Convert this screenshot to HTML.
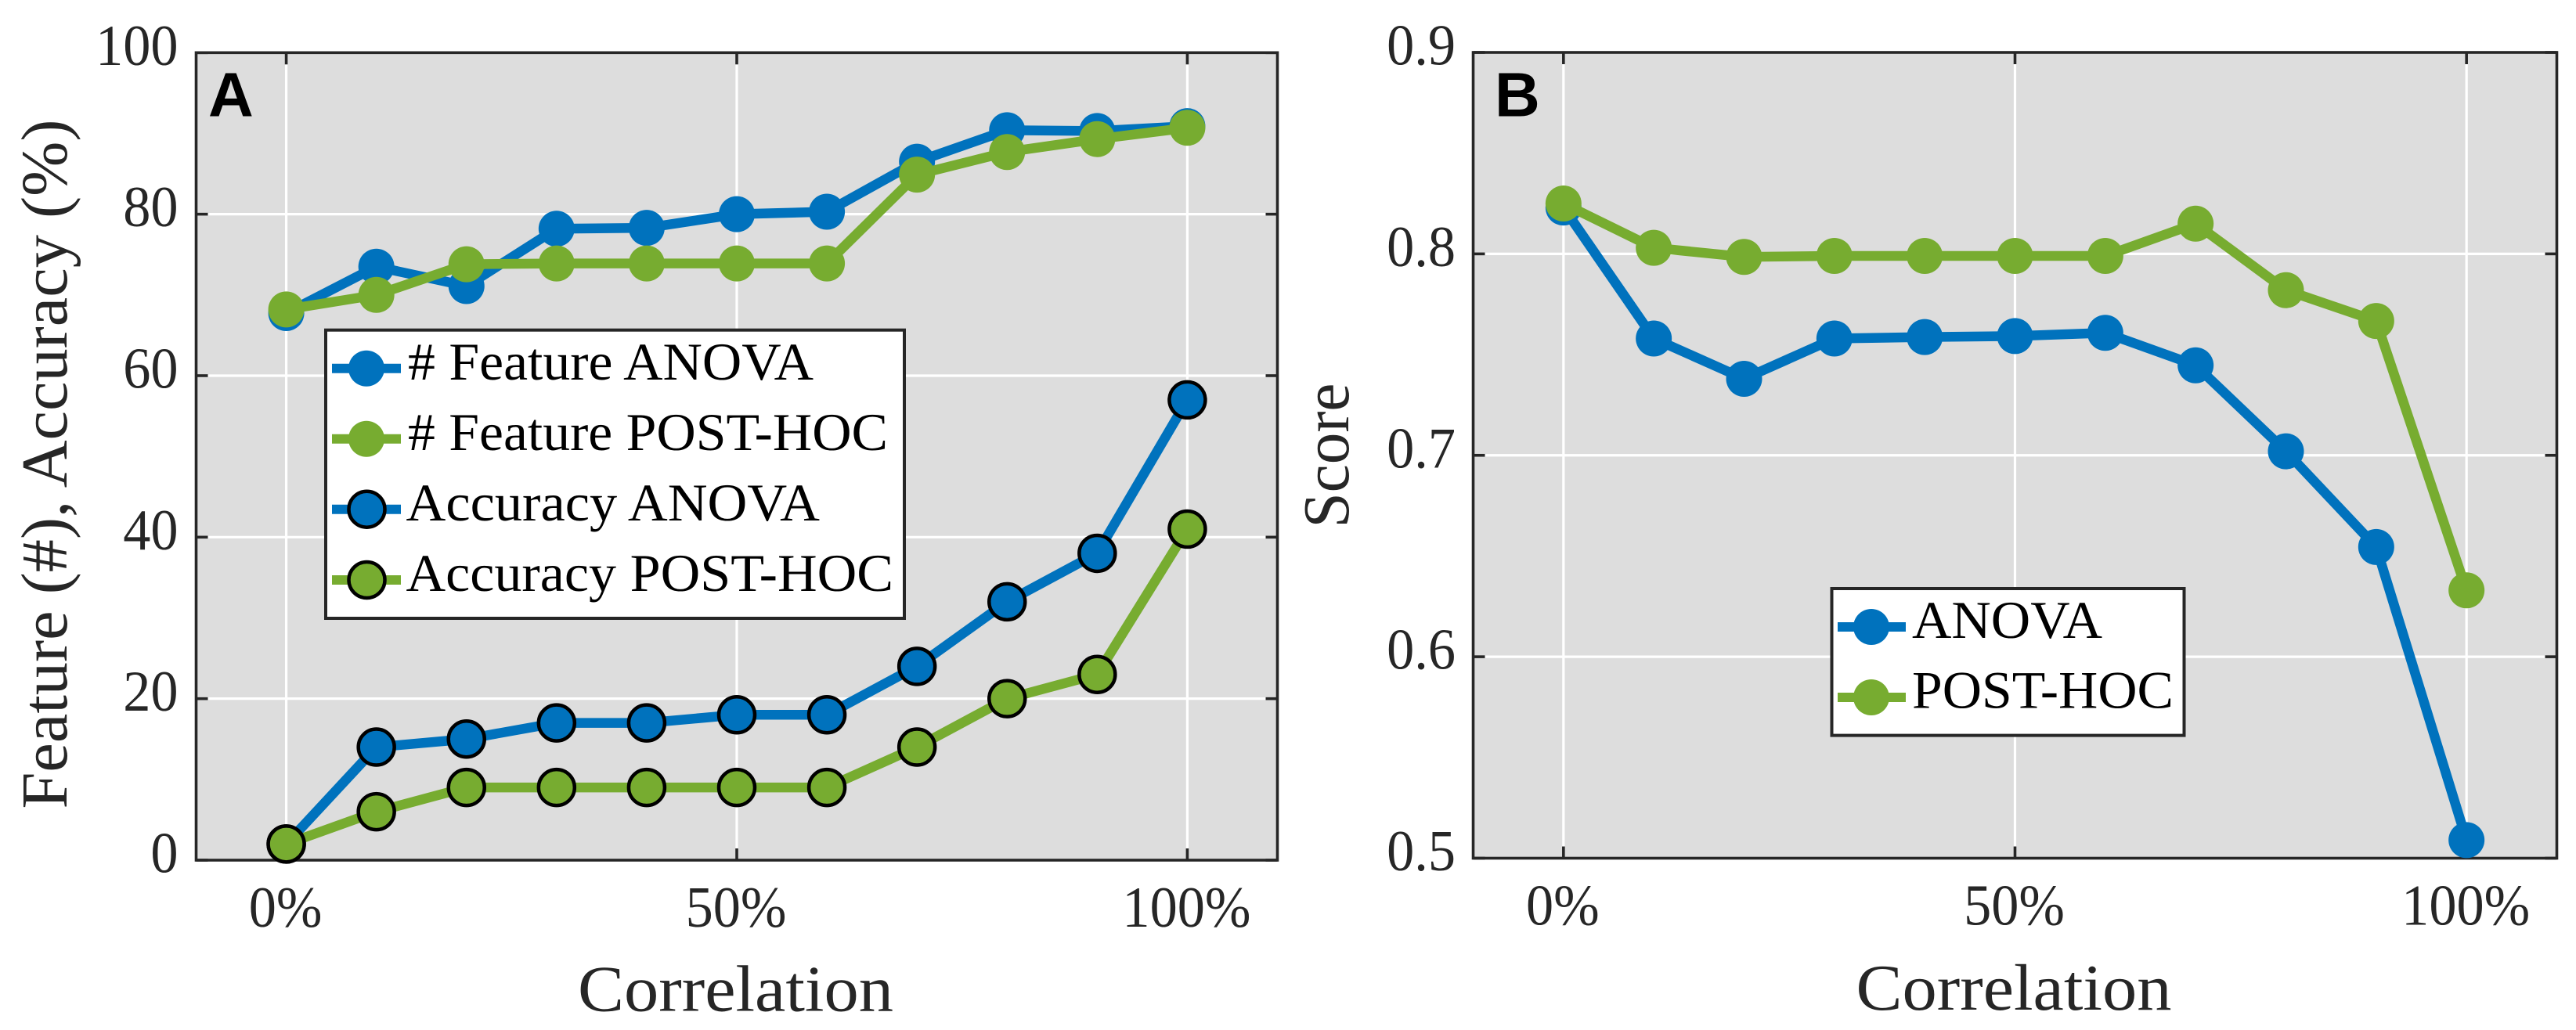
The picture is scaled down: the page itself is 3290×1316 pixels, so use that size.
<!DOCTYPE html>
<html lang="en">
<head>
<meta charset="utf-8">
<title>Feature count, accuracy and score versus correlation</title>
<style>
html,body{margin:0;padding:0;background:#fff;}
svg{display:block;}
text{font-family:"Liberation Serif",serif;}
.tick{font-size:74px;fill:#262626;}
.axt{font-size:84px;fill:#262626;}
.leg{font-size:68px;fill:#000;}
.pl{font-family:"Liberation Sans",sans-serif;font-weight:700;font-size:80px;fill:#000;}
</style>
</head>
<body>
<svg id="figure" xmlns="http://www.w3.org/2000/svg" width="3290" height="1316" viewBox="0 0 3290 1316">
  <rect width="3290" height="1316" fill="#fff"/>
  <g id="panelA"></g>
  <g id="panelB"></g>

  <text class="pl" x="266" y="148.5">A</text>
  <text class="pl" x="1909" y="148.5">B</text>

  <text class="axt" x="939.5" y="1291.5" text-anchor="middle" textLength="403" lengthAdjust="spacingAndGlyphs">Correlation</text>
  <text class="axt" x="2572" y="1290" text-anchor="middle" textLength="403" lengthAdjust="spacingAndGlyphs">Correlation</text>
  <text class="axt" transform="translate(85,1033.5) rotate(-90)" textLength="881" lengthAdjust="spacingAndGlyphs">Feature (#), Accuracy (%)</text>
  <text class="axt" transform="translate(1722,674.5) rotate(-90)" textLength="185" lengthAdjust="spacingAndGlyphs">Score</text>

  <g>
    <rect x="416" y="421.7" width="739" height="368.3" fill="#fff" stroke="#262626" stroke-width="4"/>
    <g>
      <line x1="424" x2="512" y1="470.7" y2="470.7" stroke="#0072BD" stroke-width="12"/>
      <circle cx="468" cy="470.7" r="23" fill="#0072BD"/>
      <text class="leg" x="521" y="485" textLength="518" lengthAdjust="spacingAndGlyphs"># Feature ANOVA</text>
    </g>
    <g>
      <line x1="424" x2="512" y1="560.7" y2="560.7" stroke="#77AC30" stroke-width="12"/>
      <circle cx="468" cy="560.7" r="23" fill="#77AC30"/>
      <text class="leg" x="521" y="575" textLength="613" lengthAdjust="spacingAndGlyphs"># Feature POST-HOC</text>
    </g>
    <g>
      <line x1="424" x2="512" y1="650.7" y2="650.7" stroke="#0072BD" stroke-width="12"/>
      <circle cx="468.5" cy="650.7" r="23" fill="#0072BD" stroke="#000" stroke-width="4.5"/>
      <text class="leg" x="518.5" y="665" textLength="528.5" lengthAdjust="spacingAndGlyphs">Accuracy ANOVA</text>
    </g>
    <g>
      <line x1="424" x2="512" y1="741" y2="741" stroke="#77AC30" stroke-width="12"/>
      <circle cx="468.5" cy="741" r="23" fill="#77AC30" stroke="#000" stroke-width="4.5"/>
      <text class="leg" x="518.5" y="755" textLength="622.5" lengthAdjust="spacingAndGlyphs">Accuracy POST-HOC</text>
    </g>
  </g>

  <g>
    <rect x="2339.5" y="752" width="450" height="187.6" fill="#fff" stroke="#262626" stroke-width="4"/>
    <g>
      <line x1="2347" x2="2434" y1="801" y2="801" stroke="#0072BD" stroke-width="12"/>
      <circle cx="2390" cy="801" r="23" fill="#0072BD"/>
      <text class="leg" x="2442" y="815" textLength="243" lengthAdjust="spacingAndGlyphs">ANOVA</text>
    </g>
    <g>
      <line x1="2347" x2="2434" y1="891" y2="891" stroke="#77AC30" stroke-width="12"/>
      <circle cx="2390" cy="891" r="23" fill="#77AC30"/>
      <text class="leg" x="2442" y="904.5" textLength="334" lengthAdjust="spacingAndGlyphs">POST-HOC</text>
    </g>
  </g>
</svg>

<script>
const correlation = [0, 10, 20, 30, 40, 50, 60, 70, 80, 90, 100];
const xTickValues = [0, 50, 100];
const xTickLabels = ['0%', '50%', '100%'];

const yTickValuesA = [0, 20, 40, 60, 80, 100];
const yTickLabelsA = ['0', '20', '40', '60', '80', '100'];
const featureAnova = [67.75, 73.5, 71.1, 78.2, 78.3, 80, 80.3, 86.5, 90.4, 90.3, 90.9];
const featurePostHoc = [68.2, 70, 73.8, 73.9, 73.9, 73.9, 73.9, 84.9, 87.7, 89.3, 90.7];
const accuracyAnova = [2, 14, 15, 17, 17, 18, 18, 24, 32, 38, 57];
const accuracyPostHoc = [2, 6, 9, 9, 9, 9, 9, 14, 20, 23, 41];

const yTickValuesB = [0.5, 0.6, 0.7, 0.8, 0.9];
const yTickLabelsB = ['0.5', '0.6', '0.7', '0.8', '0.9'];
const scoreAnova = [0.823, 0.758, 0.738, 0.758, 0.7587, 0.7592, 0.7608, 0.7447, 0.702, 0.6545, 0.509];
const scorePostHoc = [0.825, 0.803, 0.7985, 0.799, 0.799, 0.799, 0.799, 0.815, 0.782, 0.7667, 0.633];

const BLUE = '#0072BD';
const GREEN = '#77AC30';
const NS = 'http://www.w3.org/2000/svg';

function make(parent, tag, attrs) {
  const el = document.createElementNS(NS, tag);
  for (const k in attrs) el.setAttribute(k, attrs[k]);
  parent.appendChild(el);
  return el;
}

function linearScale(d0, d1, r0, r1) {
  return v => r0 + (v - d0) * (r1 - r0) / (d1 - d0);
}

function drawSeries(g, xs, ys, sx, sy, color, edged, name) {
  const s = make(g, 'g', {});
  
  
  const pts = xs.map((x, i) => sx(x) + ',' + sy(ys[i])).join(' ');
  const line = make(s, 'polyline', {points: pts, fill: 'none', stroke: color, 'stroke-width': 12.5, 'stroke-linejoin': 'miter'});
  
  
  xs.forEach((x, i) => {
    const c = make(s, 'circle', edged
      ? {cx: sx(x), cy: sy(ys[i]), r: 23, fill: color, stroke: '#000', 'stroke-width': 4.5}
      : {cx: sx(x), cy: sy(ys[i]), r: 23, fill: color});
    
    
  });
}

function drawPanel(id, box, yDomain, yVals, yLabels, labelRight, series) {
  const g = document.getElementById(id);
  const sx = linearScale(-10, 110, box.left, box.right);
  const sy = linearScale(yDomain[0], yDomain[1], box.bottom, box.top);

  const bg = make(g, 'rect', {x: box.left, y: box.top, width: box.right - box.left, height: box.bottom - box.top, fill: '#dddddd'});
  
  

  xTickValues.forEach(v => {
    const l = make(g, 'line', {x1: sx(v), x2: sx(v), y1: box.top, y2: box.bottom, stroke: '#fff', 'stroke-width': 3.2});
    
    
  });
  yVals.forEach(v => {
    const l = make(g, 'line', {x1: box.left, x2: box.right, y1: sy(v), y2: sy(v), stroke: '#fff', 'stroke-width': 3.2});
    
    
  });

  const frame = make(g, 'rect', {x: box.left, y: box.top, width: box.right - box.left, height: box.bottom - box.top, fill: 'none', stroke: '#262626', 'stroke-width': 3.6});
  
  

  const tl = 15;
  xTickValues.forEach((v, i) => {
    [[box.top, box.top + tl], [box.bottom, box.bottom - tl]].forEach(p => {
      const t = make(g, 'line', {x1: sx(v), x2: sx(v), y1: p[0], y2: p[1], stroke: '#262626', 'stroke-width': 3.6});
      
      
    });
    const lab = make(g, 'text', {class: 'tick', 'text-anchor': 'middle', transform: 'translate(' + (sx(v) - 1) + ',' + (box.bottom + 85) + ') scale(.95,1)'});
    
    
    lab.textContent = xTickLabels[i];
  });
  yVals.forEach((v, i) => {
    [[box.left, box.left + tl], [box.right, box.right - tl]].forEach(p => {
      const t = make(g, 'line', {x1: p[0], x2: p[1], y1: sy(v), y2: sy(v), stroke: '#262626', 'stroke-width': 3.6});
      
      
    });
    const lab = make(g, 'text', {class: 'tick', 'text-anchor': 'end', transform: 'translate(' + labelRight + ',' + (sy(v) + 15.5) + ') scale(.95,1)'});
    
    
    lab.textContent = yLabels[i];
  });

  series.forEach(s => drawSeries(g, correlation, s.values, sx, sy, s.color, s.edged, s.name));
}

drawPanel('panelA', {left: 250.5, right: 1631.5, top: 67.3, bottom: 1099}, [0, 100], yTickValuesA, yTickLabelsA, 227.5, [
  {values: featureAnova, color: BLUE, edged: false, name: 'feature-anova-series'},
  {values: featurePostHoc, color: GREEN, edged: false, name: 'feature-post-hoc-series'},
  {values: accuracyAnova, color: BLUE, edged: true, name: 'accuracy-anova-series'},
  {values: accuracyPostHoc, color: GREEN, edged: true, name: 'accuracy-post-hoc-series'}
]);

drawPanel('panelB', {left: 1881.5, right: 3265.5, top: 67, bottom: 1096.5}, [0.5, 0.9], yTickValuesB, yTickLabelsB, 1859, [
  {values: scoreAnova, color: BLUE, edged: false, name: 'score-anova-series'},
  {values: scorePostHoc, color: GREEN, edged: false, name: 'score-post-hoc-series'}
]);
</script>
</body>
</html>
